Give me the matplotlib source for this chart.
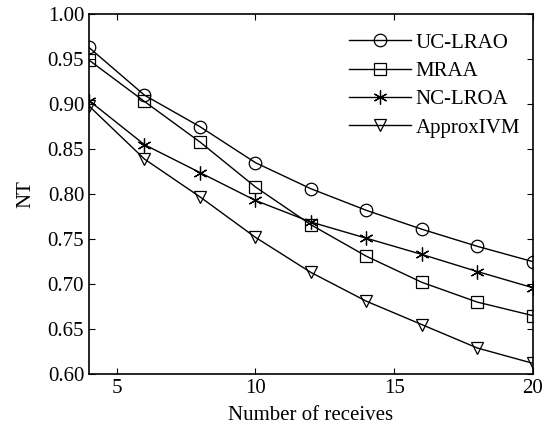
import matplotlib
matplotlib.use("Agg")
import matplotlib.pyplot as plt

x = [4, 6, 8, 10, 12, 14, 16, 18, 20]
uc_lrao = [0.963, 0.910, 0.875, 0.835, 0.806, 0.782, 0.761, 0.742, 0.725]
mraa = [0.949, 0.903, 0.858, 0.808, 0.766, 0.731, 0.702, 0.680, 0.665]
nc_lroa = [0.904, 0.855, 0.824, 0.793, 0.769, 0.751, 0.733, 0.714, 0.696]
approx_ivm = [0.898, 0.839, 0.797, 0.752, 0.713, 0.681, 0.655, 0.629, 0.612]
# matlab-style asterisk for NC-LROA
series = [("UC-LRAO", uc_lrao, "o", 9), ("MRAA", mraa, "s", 9),
          ("NC-LROA", nc_lroa, (6, 2, 0), 10), ("ApproxIVM", approx_ivm, "v", 9)]

plt.rcParams["font.family"] = ["Liberation Serif", "DejaVu Serif"]

fig = plt.figure(figsize=(5.51, 4.30), dpi=100)
ax = fig.add_axes([0.1615, 0.130, 0.8055, 0.837])
for name, ys, mk, ms in series:
    ax.plot(x, ys, marker=mk, color="black", linewidth=1.0, markersize=ms,
            markerfacecolor="none", markeredgewidth=0.9, label=name)

ax.set_xlim(4, 20)
ax.set_ylim(0.60, 1.00)
ax.set_xticks([5, 10, 15, 20])
ax.set_yticks([0.60 + 0.05 * i for i in range(9)])
ax.yaxis.set_major_formatter(matplotlib.ticker.FormatStrFormatter("%.2f"))
ax.tick_params(direction="in", top=True, right=True, length=4, labelsize=15)
for sp in ax.spines.values():
    sp.set_linewidth(1.2)
ax.set_xlabel("Number of receives", fontsize=15, labelpad=6)
ax.set_ylabel("NT", fontsize=15, labelpad=9)
ax.legend(loc="upper right", bbox_to_anchor=(0.985, 0.965), frameon=False,
          handlelength=3.0, fontsize=15, labelspacing=0.42,
          handletextpad=0.2, borderaxespad=0.0, borderpad=0.3)

fig.savefig("out.png", dpi=100)
